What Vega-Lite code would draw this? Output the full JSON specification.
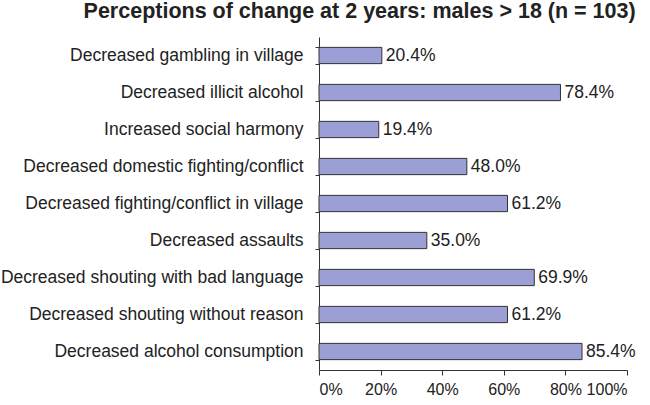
{
  "$schema": "https://vega.github.io/schema/vega-lite/v6.json",
  "width": 308,
  "height": 333,
  "autosize": {"type": "none"},
  "padding": {"left": 319, "top": 37, "right": 23, "bottom": 35},
  "background": "white",
  "title": {
    "text": "Perceptions of change at 2 years: males > 18 (n = 103)",
    "font": "Liberation Sans",
    "fontSize": 21.5,
    "fontWeight": "bold",
    "color": "#222222",
    "anchor": "end",
    "dx": 0,
    "offset": 6
  },
  "data": {
    "values": [
      {"item": "Decreased gambling in village", "pct": 20.4},
      {"item": "Decreased illicit alcohol", "pct": 78.4},
      {"item": "Increased social harmony", "pct": 19.4},
      {"item": "Decreased domestic fighting/conflict", "pct": 48.0},
      {"item": "Decreased fighting/conflict in village", "pct": 61.2},
      {"item": "Decreased assaults", "pct": 35.0},
      {"item": "Decreased shouting with bad language", "pct": 69.9},
      {"item": "Decreased shouting without reason", "pct": 61.2},
      {"item": "Decreased alcohol consumption", "pct": 85.4}
    ]
  },
  "encoding": {
    "y": {
      "field": "item",
      "type": "nominal",
      "sort": null,
      "scale": {"paddingInner": 0.56, "paddingOuter": 0.28},
      "axis": {
        "title": null,
        "labelFont": "Liberation Sans",
        "labelFontSize": 17.5,
        "labelColor": "#222222",
        "labelPadding": 12,
        "tickBand": "extent",
        "tickSize": 4,
        "tickColor": "#333333",
        "domainColor": "#333333",
        "labelLimit": 330
      }
    },
    "x": {
      "field": "pct",
      "type": "quantitative",
      "scale": {"domain": [0, 100]},
      "axis": {
        "title": null,
        "values": [0, 20, 40, 60, 80, 100],
        "labelExpr": "datum.value + '%'",
        "labelFont": "Liberation Sans",
        "labelFontSize": 16,
        "labelColor": "#222222",
        "labelPadding": 6,
        "labelOverlap": false,
        "labelBound": false,
        "tickSize": 5,
        "tickColor": "#333333",
        "domainColor": "#333333",
        "grid": false
      }
    }
  },
  "layer": [
    {
      "mark": {"type": "bar", "fill": "#9b9fd5", "stroke": "#333333", "strokeWidth": 1}
    },
    {
      "mark": {
        "type": "text",
        "align": "left",
        "baseline": "middle",
        "dx": 4,
        "font": "Liberation Sans",
        "fontSize": 17.5,
        "color": "#222222",
        "text": {"expr": "format(datum.pct, '.1f') + '%'"}
      }
    }
  ],
  "config": {"view": {"stroke": null}}
}
